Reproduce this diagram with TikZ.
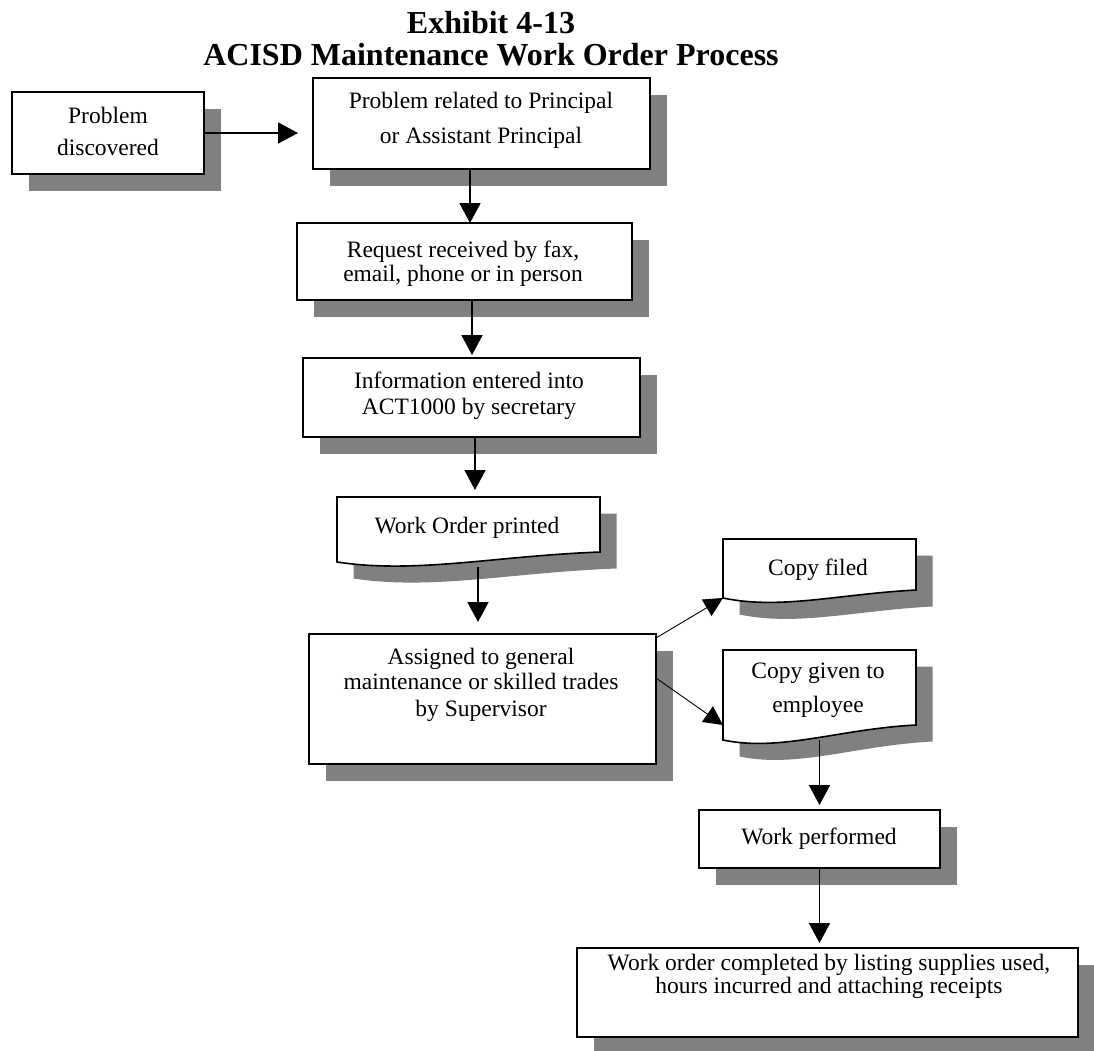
\documentclass[tikz,border=0pt]{standalone}
\usepackage{fontspec}
\setmainfont{Liberation Serif}
\usetikzlibrary{arrows.meta,calc,backgrounds}
\definecolor{shadowgray}{RGB}{128,128,128}

% outline of a document symbol with a wavy lower edge, built on a named frame node
% #1 = frame node, #2 = how far the right end of the lower edge rises
\newcommand\docoutline[2]{(#1.north west) -- (#1.north east) -- ($(#1.south east)+(0,-#2)$)
  .. controls ($(#1.south west)!0.6!(#1.south east)+(0,-#2+4)$) and ($(#1.south west)!0.3!(#1.south east)+(0,12)$) .. (#1.south west) -- cycle}

\begin{document}
\begin{tikzpicture}[x=1pt,y=-1pt,
  every node/.style={inner sep=0pt, outer sep=0pt},
  procbox/.style={draw=black, line width=1.6pt, fill=white},
  docframe/.style={},
  docline/.style={draw=black, line width=1.6pt, fill=white},
  txt/.style={anchor=base, font=\fontsize{23.5}{25}\selectfont},
  head/.style={anchor=base, font=\bfseries\fontsize{32}{34}\selectfont},
  flow/.style={line width=1.8pt, -{Triangle[length=20pt,width=21pt]}},
  thinflow/.style={line width=0.9pt, -{Triangle[length=19pt,width=19pt]}},
]
\useasboundingbox (0,0) rectangle (1094,1050);

% title
\node[head] (title1) at (491,33) {Exhibit 4-13};
\node[head] (title2) at (491,65) {ACISD Maintenance Work Order Process};

% process boxes
\node[procbox, minimum width=192pt, minimum height=82pt] (b1) at (108,133) {};
\node[procbox, minimum width=337pt, minimum height=91pt] (b2) at (481.5,123.5) {};
\node[procbox, minimum width=335pt, minimum height=77pt] (b3) at (464.5,261.5) {};
\node[procbox, minimum width=337pt, minimum height=79pt] (b4) at (471.5,397.5) {};
\node[procbox, minimum width=347pt, minimum height=130pt] (b6) at (482.5,699) {};
\node[procbox, minimum width=241pt, minimum height=58pt] (b7) at (819.5,839) {};
\node[procbox, minimum width=501pt, minimum height=89pt] (b8) at (827.5,992.5) {};

% document symbols
\node[docframe, minimum width=263pt, minimum height=65pt] (b5) at (468.5,529.5) {};
\node[docframe, minimum width=193pt, minimum height=59pt] (cf) at (819.5,568.5) {};
\node[docframe, minimum width=193pt, minimum height=90pt] (cg) at (819.5,695) {};
\draw[docline] \docoutline{b5}{10};
\draw[docline] \docoutline{cf}{8};
\draw[docline] \docoutline{cg}{15};

% drop shadows
\begin{pgfonlayer}{background}
  \foreach \n in {b1,b2,b3,b4,b6,b7,b8}
    \fill[shadowgray] ([shift={(16.5pt,-16.5pt)}]\n.north west) rectangle ([shift={(16.5pt,-16.5pt)}]\n.south east);
  \fill[shadowgray, transform canvas={shift={(16.5pt,-16.5pt)}}] \docoutline{b5}{10};
  \fill[shadowgray, transform canvas={shift={(16.5pt,-16.5pt)}}] \docoutline{cf}{8};
  \fill[shadowgray, transform canvas={shift={(16.5pt,-16.5pt)}}] \docoutline{cg}{15};
\end{pgfonlayer}

% texts
\node[txt] (b1a) at (108,123) {Problem};
\node[txt] (b1b) at (108,155) {discovered};
\node[txt] (b2a) at (481,108) {Problem related to Principal};
\node[txt] (b2b) at (481,143) {or Assistant Principal};
\node[txt] (b3a) at (463,257) {Request received by fax,};
\node[txt] (b3b) at (463,281) {email, phone or in person};
\node[txt] (b4a) at (469,388) {Information entered into};
\node[txt] (b4b) at (469,414) {ACT1000 by secretary};
\node[txt] (b5a) at (467,533) {Work Order printed};
\node[txt] (b6a) at (481,664) {Assigned to general};
\node[txt] (b6b) at (481,689) {maintenance or skilled trades};
\node[txt] (b6c) at (481,716) {by Supervisor};
\node[txt] (cfa) at (818,575) {Copy filed};
\node[txt] (cga) at (818,678) {Copy given to};
\node[txt] (cgb) at (818,712) {employee};
\node[txt] (b7a) at (819,844) {Work performed};
\node[txt] (b8a) at (829,970) {Work order completed by listing supplies used,};
\node[txt] (b8b) at (829,993) {hours incurred and attaching receipts};

% connectors
\coordinate (b5out) at ($(b5.south)+(9.5,5)$);
\draw[flow, shorten >=15pt] (b1.east) -- (b1.east -| b2.west);
\draw[flow] ([xshift=-11.5pt]b2.south) -- ([xshift=-11.5pt]b2.south |- b3.north);
\draw[flow, shorten >=3pt] ([xshift=7.5pt]b3.south) -- ([xshift=7.5pt]b3.south |- b4.north);
\draw[flow, shorten >=7pt] ([xshift=3.5pt]b4.south) -- ([xshift=3.5pt]b4.south |- b5.north);
\draw[flow, shorten >=12pt] (b5out) -- (b5out |- b6.north);
\draw[thinflow] ([yshift=-4pt]b6.north east) -- (cf.south west);
\draw[thinflow] ([yshift=21pt]b6.east) -- ([yshift=-30pt]cg.west);
\draw[flow, shorten >=5pt] (cg.south) -- (cg.south |- b7.north);
\draw[flow, shorten >=5pt] (b7.south) -- (b7.south |- b8.north);
\end{tikzpicture}
\end{document}
